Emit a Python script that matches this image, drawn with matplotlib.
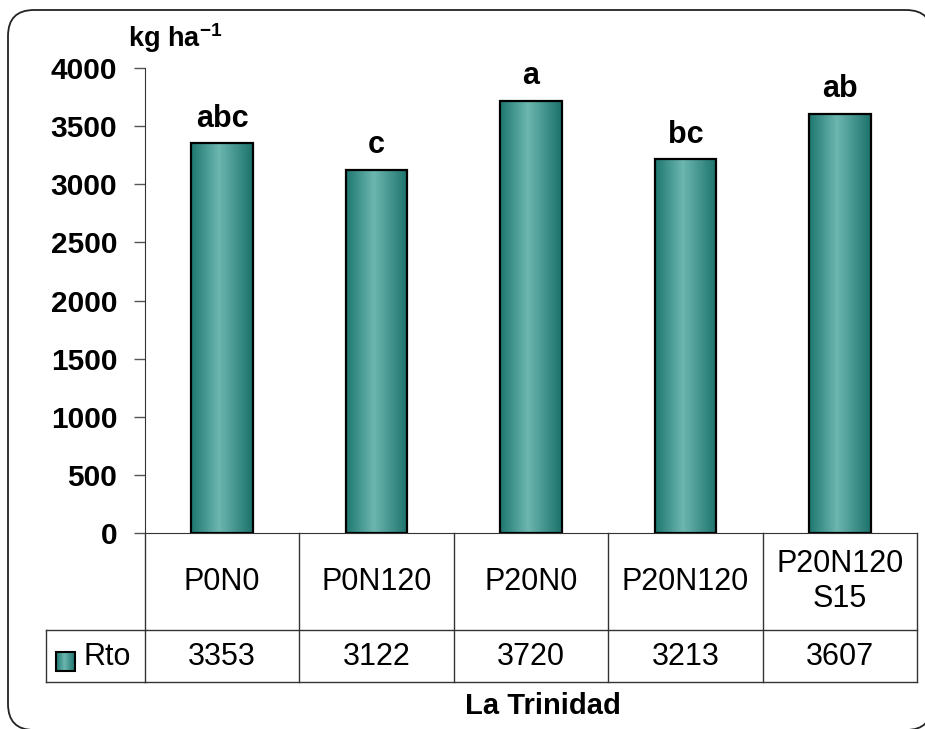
"""
Rendimiento (Rto) por tratamiento - La Trinidad.

Bar chart with Excel-style data table underneath.
"""

import matplotlib.pyplot as plt
import matplotlib.transforms as mtransforms
import numpy as np
from matplotlib.colors import LinearSegmentedColormap
from matplotlib.patches import FancyBboxPatch, Rectangle

plt.rcParams["font.family"] = ["Liberation Sans", "DejaVu Sans"]
plt.rcParams["mathtext.fontset"] = "custom"
plt.rcParams["mathtext.rm"] = "Liberation Sans"
plt.rcParams["mathtext.bf"] = "Liberation Sans:bold"

# data
treatments = ["P0N0", "P0N120", "P20N0", "P20N120", "P20N120\nS15"]
rto = [3353, 3122, 3720, 3213, 3607]
letters = ["abc", "c", "a", "bc", "ab"]
series_name = "Rto"
site = "La Trinidad"
y_ticks = [0, 500, 1000, 1500, 2000, 2500, 3000, 3500, 4000]

W, H = 925, 729
LINE = "#333333"

cyl = LinearSegmentedColormap.from_list(
    "cyl", [(0.0, "#1d7770"), (0.45, "#6cb7b0"), (1.0, "#1b736c")]
)
grad = np.linspace(0, 1, 256).reshape(1, -1)

fig = plt.figure(figsize=(W / 100, H / 100), dpi=100)

# pixel overlay for frame and table
bg = fig.add_axes([0, 0, 1, 1])
bg.set_xlim(0, W)
bg.set_ylim(H, 0)
bg.axis("off")
bg.add_patch(
    FancyBboxPatch(
        (8, 10), 924, 720,
        boxstyle="round,pad=0,rounding_size=26",
        fc="white", ec="#222222", lw=1.3,
    )
)

# plot area: 0 at y=533 px, 4000 at y=68 px
ax = fig.add_axes([145 / W, (H - 533) / H, (917 - 145) / W, (533 - 68) / H])
ax.set_facecolor("none")
x = np.arange(len(rto))
bars = ax.bar(x, rto, width=0.4, facecolor="none", edgecolor="black",
              linewidth=1.6, zorder=3)
for bar in bars:
    x0, w, h = bar.get_x(), bar.get_width(), bar.get_height()
    im = ax.imshow(grad, cmap=cyl, aspect="auto", extent=(x0, x0 + w, 0, h),
                   zorder=2, interpolation="bicubic")
    im.set_clip_path(bar)

for xi, v, lab in zip(x, rto, letters):
    ax.annotate(lab, (xi, v), xytext=(0, 12), textcoords="offset points",
                ha="center", va="baseline", fontsize=22, fontweight="bold")

ax.set_xlim(-0.5, len(rto) - 0.5)
ax.set_ylim(0, 4000)
ax.set_yticks(y_ticks)
ax.set_xticks([])
ax.tick_params(axis="y", length=8, width=1, color="#555555", pad=12,
               labelsize=21.5)
for t in ax.get_yticklabels():
    t.set_fontweight("bold")
for s in ("top", "right"):
    ax.spines[s].set_visible(False)
ax.spines["left"].set_color(LINE)
ax.spines["bottom"].set_color(LINE)

# data table below the axis
tab = mtransforms.blended_transform_factory(ax.transData, bg.transData)
bounds = np.arange(len(rto) + 1) - 0.5
ROW1, ROW2, ROW3 = 533, 630, 682
for b in bounds:
    bg.plot([b, b], [ROW1, ROW3], color=LINE, lw=1, transform=tab,
            clip_on=False)
for y in (ROW2, ROW3):
    bg.plot([bounds[0], bounds[-1]], [y, y], color=LINE, lw=1,
            transform=tab, clip_on=False)
    bg.plot([46, 145], [y, y], color=LINE, lw=1, clip_on=False)
bg.plot([46, 46], [ROW2, ROW3], color=LINE, lw=1, clip_on=False)

for xi, name, v in zip(x, treatments, rto):
    bg.text(xi, (ROW1 + ROW2) / 2, name, transform=tab, ha="center",
            va="center", fontsize=22, linespacing=1.25)
    bg.text(xi, (ROW2 + ROW3) / 2 + 1, f"{v}", transform=tab, ha="center",
            va="center", fontsize=22)

# legend key in the table
key = bg.imshow(grad, cmap=cyl, aspect="auto", extent=(56, 75, 671, 652),
                zorder=3, interpolation="bicubic")
bg.add_patch(Rectangle((56, 652), 19, 19, fc="none", ec="black", lw=1.5,
                       zorder=4))
bg.text(84, (ROW2 + ROW3) / 2 + 1, series_name, ha="left", va="center",
        fontsize=22)
bg.set_xlim(0, W)
bg.set_ylim(H, 0)

bg.text(543, 706, site, ha="center", va="center", fontsize=21,
        fontweight="bold")
bg.text(128, 47, r"kg ha$^{\mathbf{-1}}$", ha="left", va="baseline",
        fontsize=19.5, fontweight="bold")

fig.savefig("out.png", dpi=100)
